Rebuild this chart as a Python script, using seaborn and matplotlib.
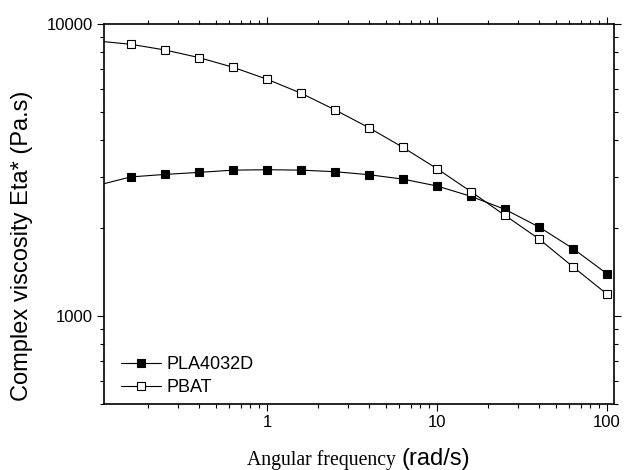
import pandas as pd
import seaborn as sns
import matplotlib
matplotlib.use("Agg")
import matplotlib.pyplot as plt
from matplotlib.ticker import FuncFormatter, NullFormatter, LogLocator

# angular frequency (rad/s); the 0.1 point sits just left of the axis and is clipped
freq = [0.1, 0.158, 0.251, 0.398, 0.631, 1.0, 1.585, 2.51, 3.98, 6.31,
        10.0, 15.85, 25.1, 39.8, 63.1, 100.0]
pla_eta = [2800, 2995, 3055, 3104, 3160, 3170, 3160, 3121, 3048, 2944,
           2789, 2570, 2320, 2019, 1703, 1396]
pbat_eta = [8750, 8522, 8150, 7674, 7112, 6471, 5797, 5084, 4414, 3780,
            3197, 2667, 2213, 1838, 1475, 1189]
series_names = ["PLA4032D", "PBAT"]

df = pd.DataFrame({"freq": freq, "PLA4032D": pla_eta, "PBAT": pbat_eta})

sns.set_theme(style="ticks")
plt.rcParams["font.family"] = ["Liberation Sans", "DejaVu Sans"]
plt.rcParams["text.color"] = "black"
plt.rcParams["axes.labelcolor"] = "black"
plt.rcParams["xtick.color"] = "black"
plt.rcParams["ytick.color"] = "black"

fig = plt.figure(figsize=(6.24, 4.70), dpi=100)
ax = fig.add_axes([104 / 624, 1 - 404 / 470, 510 / 624, 380 / 470])

sns.lineplot(data=df, x="freq", y=series_names[0], ax=ax, color="black",
             linewidth=0.8, marker="s", markersize=5.5, markerfacecolor="black",
             markeredgecolor="black", markeredgewidth=0.8, label=series_names[0])
sns.lineplot(data=df, x="freq", y=series_names[1], ax=ax, color="black",
             linewidth=0.8, marker="s", markersize=5.5, markerfacecolor="white",
             markeredgecolor="black", markeredgewidth=0.8, label=series_names[1])

ax.set_xscale("log")
ax.set_yscale("log")
ax.set_xlim(0.11, 110)
ax.set_ylim(500, 10000)

fmt = FuncFormatter(lambda v, _: f"{v:g}")
ax.xaxis.set_major_formatter(fmt)
ax.yaxis.set_major_formatter(fmt)
ax.xaxis.set_minor_formatter(NullFormatter())
ax.yaxis.set_minor_formatter(NullFormatter())
ax.yaxis.set_minor_locator(LogLocator(base=10, subs=range(2, 10)))
ax.xaxis.set_minor_locator(LogLocator(base=10, subs=range(2, 10)))

for side in ["top", "right", "bottom", "left"]:
    ax.spines[side].set_visible(True)
    ax.spines[side].set_linewidth(1.2)
    ax.spines[side].set_color("black")

ax.tick_params(which="both", direction="out", top=True, right=True,
               labeltop=False, labelright=False, color="black",
               labelcolor="black", width=0.8)
ax.tick_params(which="major", length=5, labelsize=12, pad=3)
ax.tick_params(which="minor", length=3)

ax.set_xlabel("")
ax.set_ylabel("Complex viscosity Eta* (Pa.s)", fontsize=17)
ax.yaxis.set_label_coords(-0.139, 0.416)

# x label mixes a serif and a sans font
fig.text(401 / 624, 0.0106, "Angular frequency ", family=["Liberation Serif"],
         fontsize=14.25, ha="right", va="baseline")
fig.text(401 / 624, 0.0106, "(rad/s)", family=["Liberation Sans"],
         fontsize=17, ha="left", va="baseline")

ax.legend(loc="lower left", bbox_to_anchor=(0.033, 0.02), frameon=False,
          fontsize=13, handlelength=2.2, handletextpad=0.35,
          labelspacing=0.35, borderpad=0, borderaxespad=0)

fig.savefig("out.png", dpi=100)
